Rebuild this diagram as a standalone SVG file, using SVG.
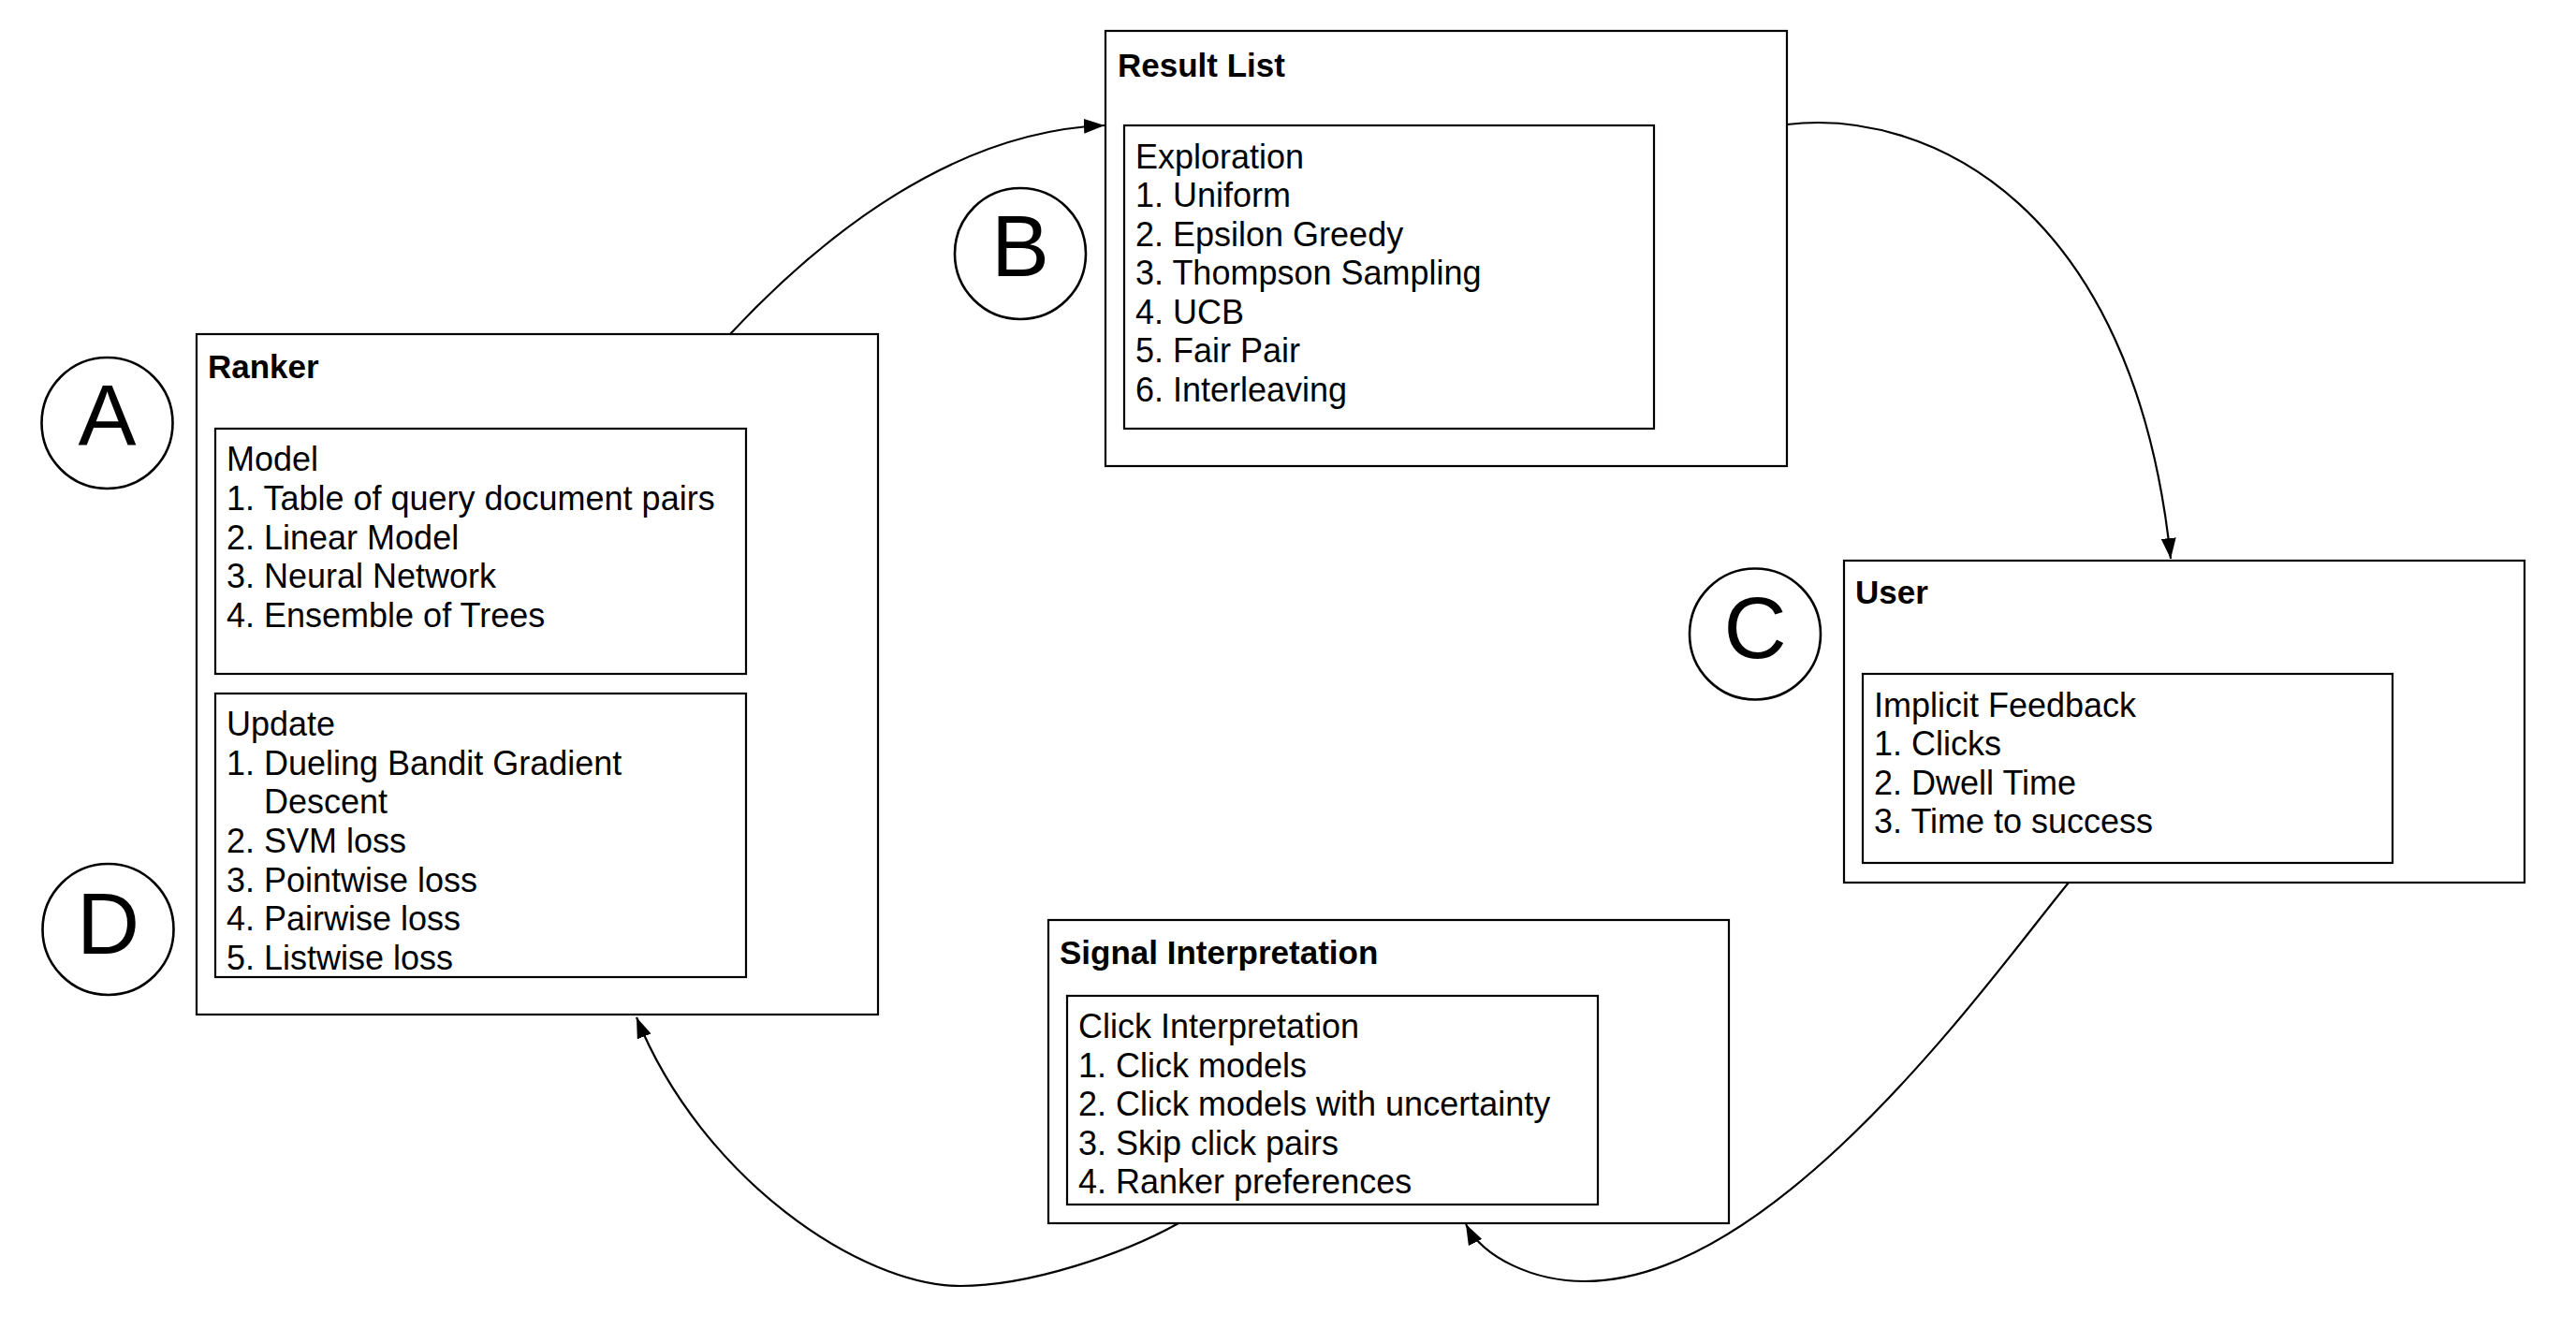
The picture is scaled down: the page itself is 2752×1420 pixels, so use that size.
<svg xmlns="http://www.w3.org/2000/svg" width="2752" height="1420" viewBox="0 0 2752 1420">
<defs>
<style>
.box{fill:#fff;stroke:#000;stroke-width:2.2}
.inner{fill:none;stroke:#000;stroke-width:2.2}
.title{font-family:"Liberation Sans",Arial,Helvetica,sans-serif;font-size:35px;font-weight:bold;fill:#000}
.body{font-family:"Liberation Sans",Arial,Helvetica,sans-serif;font-size:36px;fill:#000}
.circ{fill:#fff;stroke:#000;stroke-width:2.6}
.letter{font-family:"Liberation Sans",Arial,Helvetica,sans-serif;font-size:93px;fill:#000;text-anchor:middle}
.edge{fill:none;stroke:#000;stroke-width:2.2}
</style>
<marker id="arrow" viewBox="0 0 22 16" refX="22" refY="8" markerWidth="22" markerHeight="16" markerUnits="userSpaceOnUse" orient="auto">
<path d="M0,0 L22,8 L0,16 z" fill="#000"/>
</marker>
</defs>
<rect width="2752" height="1420" fill="#fff"/>

<g id="connectors">
<path class="edge" d="M780,357 C880,250 1020,140 1180,134" marker-end="url(#arrow)"/>
<path class="edge" d="M1909,133 C2060,115 2280,220 2319,597" marker-end="url(#arrow)"/>
<path class="edge" d="M2210,943 C2130,1040 1900,1369 1693,1369 C1640,1369 1585,1345 1566,1308" marker-end="url(#arrow)"/>
<path class="edge" d="M1259,1307 C1200,1340 1100,1374 1026,1374 C920,1374 750,1260 680,1087" marker-end="url(#arrow)"/>
</g>

<g id="ranker">
<rect class="box" x="210" y="357" width="728" height="727"/>
<text class="title" x="222" y="404">Ranker</text>
<g id="ranker-model">
<rect class="inner" x="230" y="458" width="567" height="262"/>
<text class="body" x="242" y="503">Model</text>
<text class="body" x="242" y="545">1. Table of query document pairs</text>
<text class="body" x="242" y="587">2. Linear Model</text>
<text class="body" x="242" y="628">3. Neural Network</text>
<text class="body" x="242" y="670">4. Ensemble of Trees</text>
</g>
<g id="ranker-update">
<rect class="inner" x="230" y="741" width="567" height="303"/>
<text class="body" x="242" y="786">Update</text>
<text class="body" x="242" y="828">1. Dueling Bandit Gradient</text>
<text class="body" x="282" y="869">Descent</text>
<text class="body" x="242" y="911">2. SVM loss</text>
<text class="body" x="242" y="953">3. Pointwise loss</text>
<text class="body" x="242" y="994">4. Pairwise loss</text>
<text class="body" x="242" y="1036">5. Listwise loss</text>
</g>
</g>

<g id="result-list">
<rect class="box" x="1181" y="33" width="728" height="465"/>
<text class="title" x="1194" y="82">Result List</text>
<rect class="inner" x="1201" y="134" width="566" height="324"/>
<text class="body" x="1213" y="180">Exploration</text>
<text class="body" x="1213" y="221">1. Uniform</text>
<text class="body" x="1213" y="263">2. Epsilon Greedy</text>
<text class="body" x="1213" y="304">3. Thompson Sampling</text>
<text class="body" x="1213" y="346">4. UCB</text>
<text class="body" x="1213" y="387">5. Fair Pair</text>
<text class="body" x="1213" y="429">6. Interleaving</text>
</g>

<g id="user">
<rect class="box" x="1970" y="599" width="727" height="344"/>
<text class="title" x="1982" y="645">User</text>
<rect class="inner" x="1990" y="720" width="566" height="202"/>
<text class="body" x="2002" y="766">Implicit Feedback</text>
<text class="body" x="2002" y="807">1. Clicks</text>
<text class="body" x="2002" y="849">2. Dwell Time</text>
<text class="body" x="2002" y="890">3. Time to success</text>
</g>

<g id="signal-interpretation">
<rect class="box" x="1120" y="983" width="727" height="324"/>
<text class="title" x="1132" y="1030">Signal Interpretation</text>
<rect class="inner" x="1140" y="1064" width="567" height="223"/>
<text class="body" x="1152" y="1109">Click Interpretation</text>
<text class="body" x="1152" y="1151">1. Click models</text>
<text class="body" x="1152" y="1192">2. Click models with uncertainty</text>
<text class="body" x="1152" y="1234">3. Skip click pairs</text>
<text class="body" x="1152" y="1275">4. Ranker preferences</text>
</g>

<g id="label-a">
<circle class="circ" cx="114.5" cy="452" r="70"/>
<text class="letter" x="114.5" y="476">A</text>
</g>
<g id="label-b">
<circle class="circ" cx="1090" cy="271" r="70"/>
<text class="letter" x="1090" y="295">B</text>
</g>
<g id="label-c">
<circle class="circ" cx="1875" cy="677.5" r="70"/>
<text class="letter" x="1875" y="703">C</text>
</g>
<g id="label-d">
<circle class="circ" cx="115.5" cy="993" r="70"/>
<text class="letter" x="115.5" y="1019">D</text>
</g>
</svg>
